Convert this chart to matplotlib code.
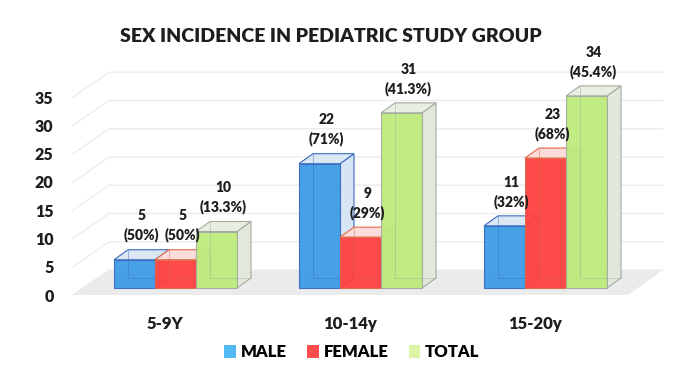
import numpy as np
import matplotlib
matplotlib.use("Agg")
import matplotlib.pyplot as plt
from matplotlib.patches import Polygon, Patch

plt.rcParams['font.family'] = ['Lato', 'DejaVu Sans']
WT = 'heavy'

# data
groups = ["5-9Y", "10-14y", "15-20y"]
series = ["MALE", "FEMALE", "TOTAL"]
male = [5, 22, 11]
female = [5, 9, 23]
total = [10, 31, 34]
male_pct = ["50%", "71%", "32%"]
female_pct = ["50%", "29%", "68%"]
total_pct = ["13.3%", "41.3%", "45.4%"]

front = ['#3E9BE6', '#FF4040', '#BDEB7C']
tops = ['#DCE7F4', '#FADCDA', '#E9EEE2']
sides = ['#D6E4F3', '#F7D9D9', '#E3E8DC']
edges = ['#3A6CC0', '#E06A48', '#A3AC9F']
legend_cols = ['#52B9F4', '#FF4D4D', '#DDF3A6']
txt = '#1E1E1E'

W, H = 677, 381
fig = plt.figure(figsize=(W / 100, H / 100), dpi=100)
# pixel geometry: axes from x=73..663 px, y=295 (bottom) .. 20 (top)
ax = fig.add_axes([73 / W, (H - 295) / H, (663 - 73) / W, (295 - 20) / H])
px_x = 185.0      # pixels per category
px_y = 5.65       # pixels per value unit
ax.set_xlim((73 - 175.5) / px_x, (663 - 175.5) / px_x)
ax.set_ylim(0, (295 - 20) / px_y)
for s in ax.spines.values():
    s.set_visible(False)

x0, x1 = ax.get_xlim()
fdx, fdy = 36 / px_x, 25 / px_y       # floor depth
bdx, bdy = 14 / px_x, 10 / px_y       # bar depth
base = 7 / px_y
bw = 41 / px_x

# back wall gridlines + side wall
for v in range(0, 40, 5):
    ax.plot([x0, x0 + fdx, x1], [v, v + fdy, v + fdy], color='#EDEDED', lw=1, zorder=1, clip_on=False)

# floor
floor_r = (628 - 175.5) / px_x
ax.add_patch(Polygon([[x0, 0], [floor_r, 0], [x1, fdy], [x0 + fdx, fdy]],
                     closed=True, facecolor='#EBEBEB', edgecolor='none', zorder=2))

x = np.arange(len(groups))
vals = [male, female, total]
pcts = [male_pct, female_pct, total_pct]
z = 3
for g in range(len(groups)):
    for k in range(3):
        v = vals[k][g]
        left = x[g] + (k - 1.5) * bw
        right = left + bw
        top = base + v
        # side face
        ax.add_patch(Polygon([[right, base], [right + bdx, base + bdy], [right + bdx, top + bdy], [right, top]],
                             closed=True, facecolor=sides[k], edgecolor=edges[k], lw=0.8, zorder=z))
        # top face
        ax.add_patch(Polygon([[left, top], [right, top], [right + bdx, top + bdy], [left + bdx, top + bdy]],
                             closed=True, facecolor=tops[k], edgecolor=edges[k], lw=0.8, zorder=z))
        # front face
        ax.bar(left, v, width=bw, bottom=base, align='edge', color=front[k], alpha=0.95,
               edgecolor=edges[k], lw=0.8, zorder=z + 0.5)
        # hidden back edges seen through
        ax.plot([left + bdx, left + bdx, right + bdx], [top + bdy, base + bdy, base + bdy],
                color=edges[k], lw=0.7, alpha=0.45, zorder=z + 0.6)
        ax.text(left + bw / 2 + bdx / 2, top + bdy + 1.3, f"{v}\n({pcts[k][g]})",
                ha='center', va='bottom', fontsize=10, fontweight=WT, color=txt,
                linespacing=1.45, zorder=20)
        z += 1

ax.set_yticks(range(0, 40, 5))
ax.tick_params(axis='y', length=0, pad=14, labelsize=11.5, labelcolor=txt)
ax.set_xticks(x - 0.055)
ax.set_xticklabels(groups)
ax.tick_params(axis='x', length=0, pad=15, labelsize=12, labelcolor=txt)
for lab in ax.get_xticklabels() + ax.get_yticklabels():
    lab.set_fontweight(WT)

fig.text(331 / W, 1 - 37 / H, "SEX INCIDENCE IN PEDIATRIC STUDY GROUP", ha='center', va='center',
         fontsize=14, fontweight=WT, color=txt)

handles = [Patch(facecolor=c, edgecolor='none') for c in legend_cols]
fig.legend(handles, series, loc='center', bbox_to_anchor=(352 / W, 1 - 352 / H), ncol=3,
           frameon=False, handlelength=0.7, handleheight=0.8, handletextpad=0.3,
           columnspacing=1.2, prop={'weight': WT, 'size': 12})

fig.savefig("out.png", dpi=100)
